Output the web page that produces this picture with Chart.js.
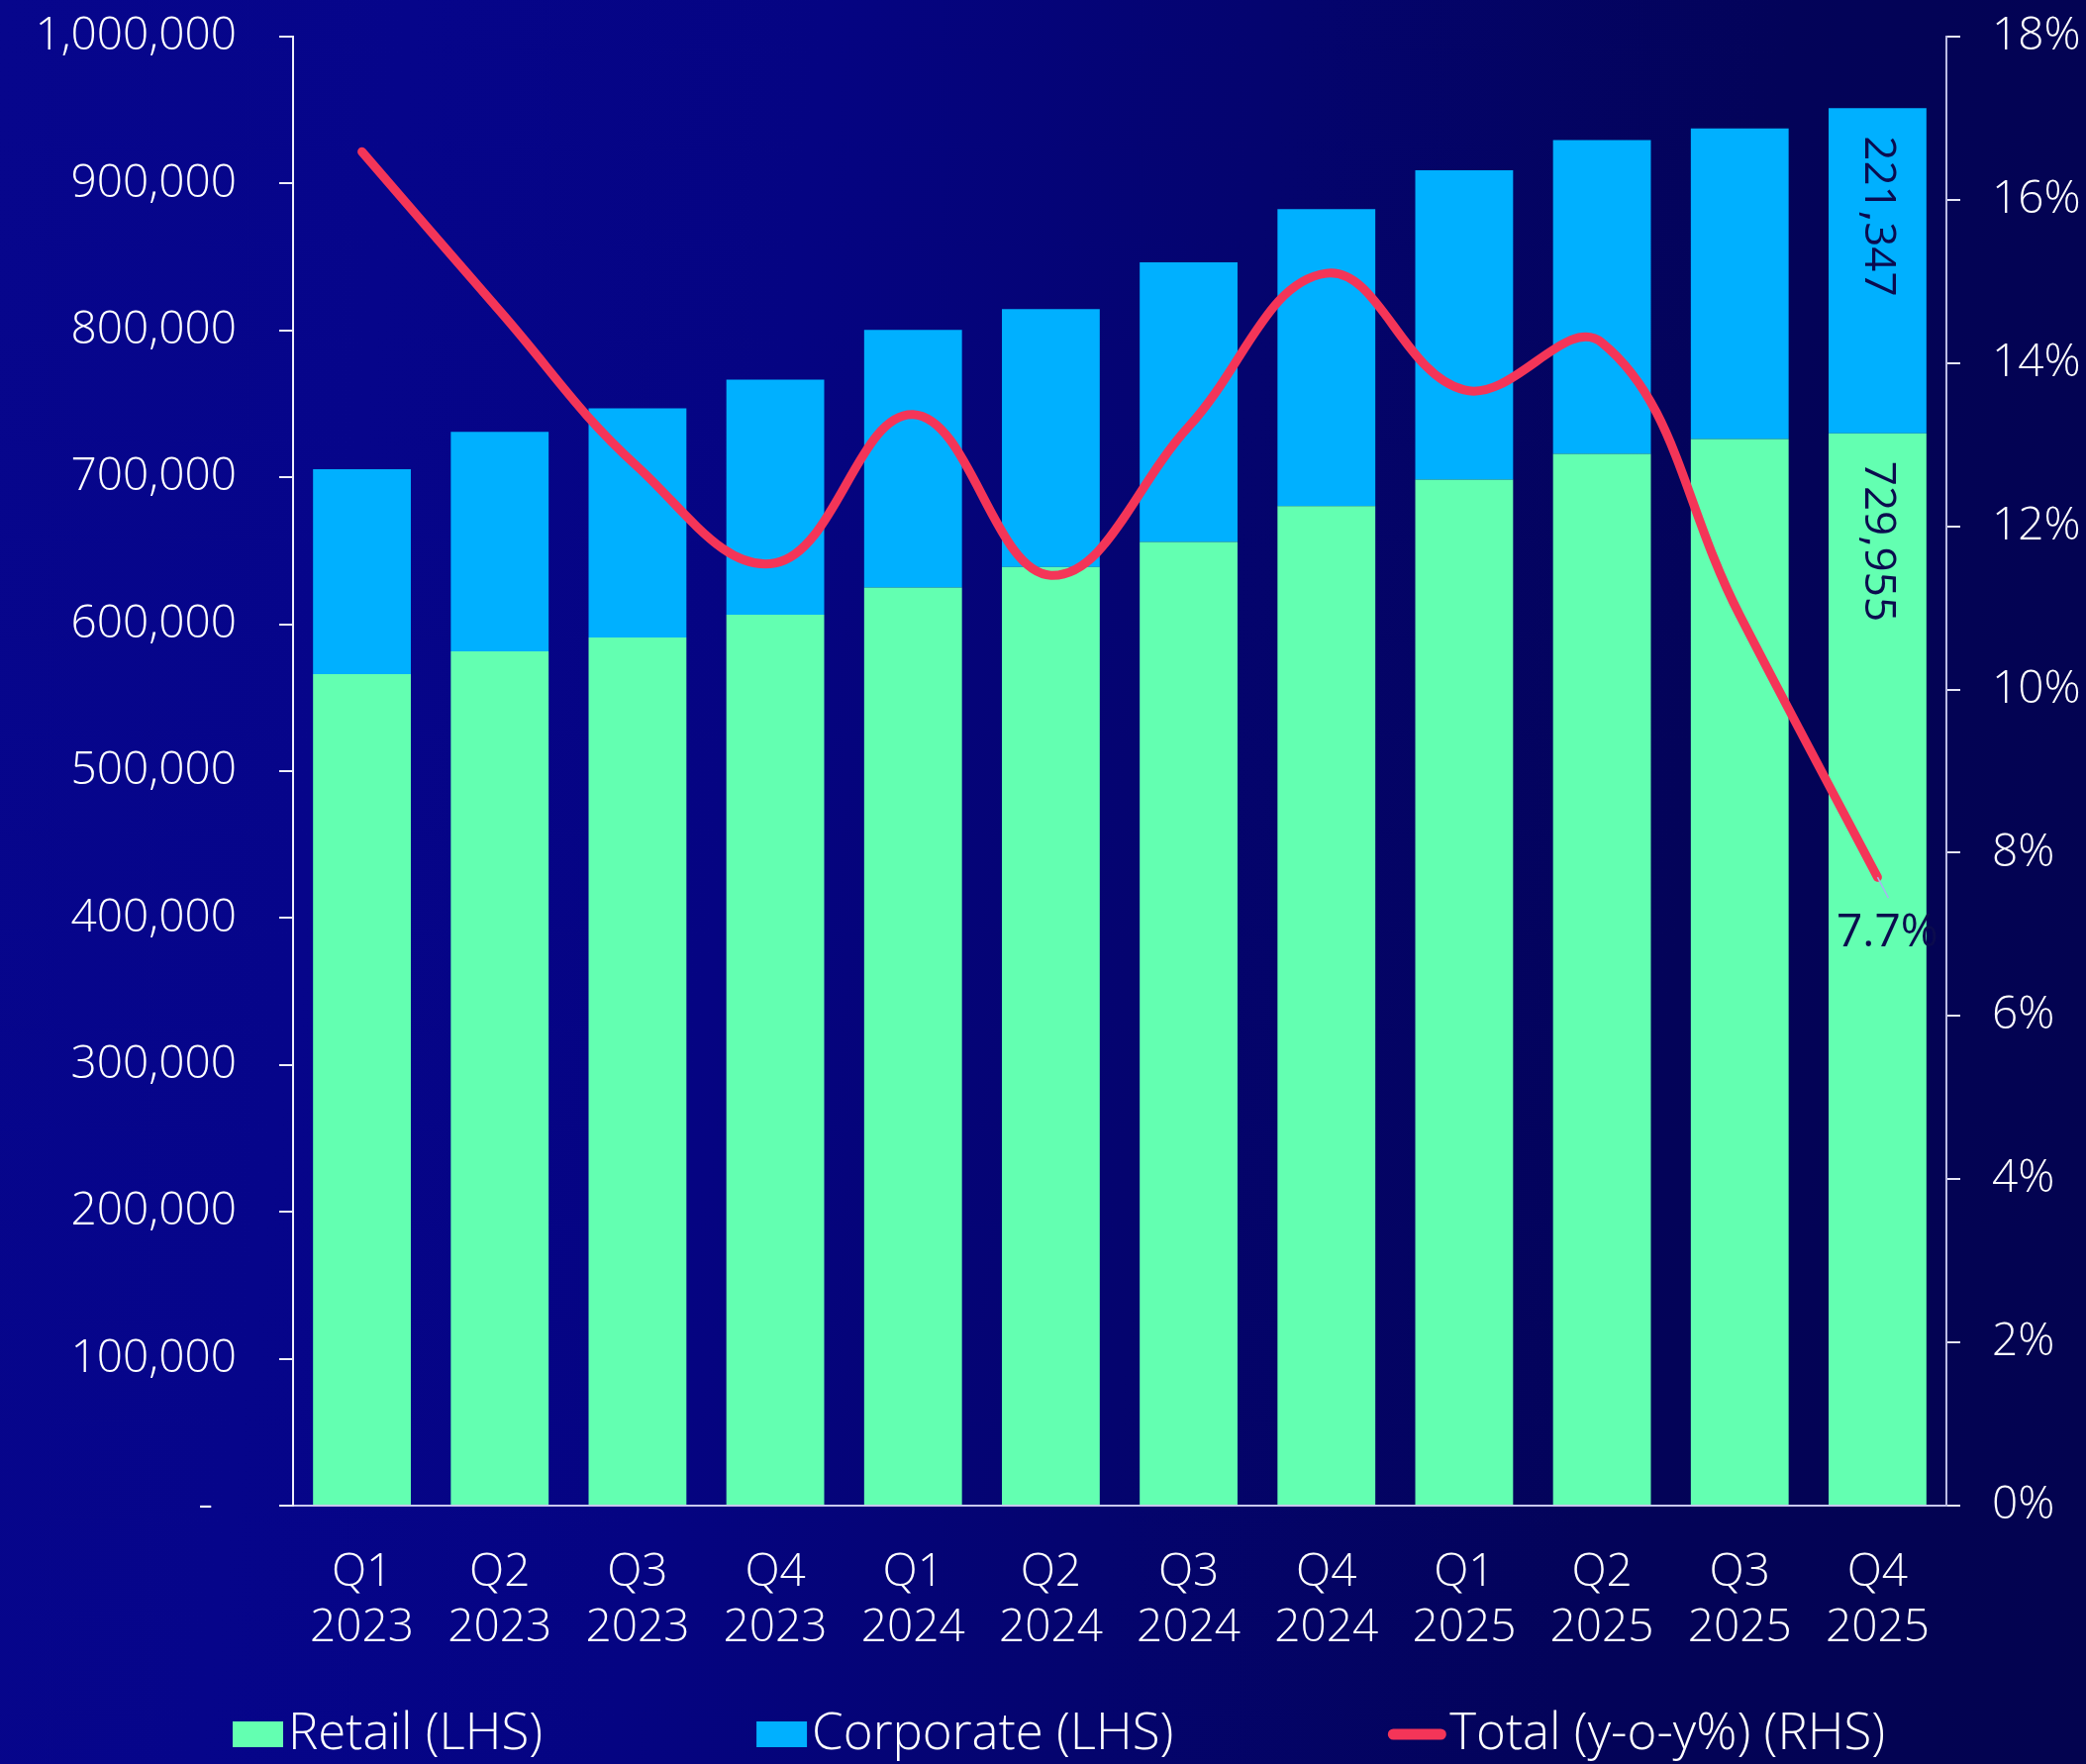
<!DOCTYPE html>
<html>
<head>
<meta charset="utf-8">
<script src="https://cdn.jsdelivr.net/npm/chart.js@4.4.1/dist/chart.umd.min.js"></script>
<style>
html,body{margin:0;padding:0;width:2107px;height:1782px;overflow:hidden;}
body{background:linear-gradient(97deg,#07068c 0%,#06058a 18%,#050482 36%,#04046e 56%,#030359 78%,#03034f 100%);}
#wrap{position:relative;width:2107px;height:1782px;}
canvas{display:block;}
</style>
</head>
<body>
<div id="wrap"><canvas id="c" width="2107" height="1782"></canvas></div>
<script>
// ---- data ----
const categories = [
  ['Q1','2023'],['Q2','2023'],['Q3','2023'],['Q4','2023'],
  ['Q1','2024'],['Q2','2024'],['Q3','2024'],['Q4','2024'],
  ['Q1','2025'],['Q2','2025'],['Q3','2025'],['Q4','2025']
];
const retail    = [566000, 581500, 591000, 606500, 625000, 639000, 656000, 680500, 698500, 716000, 726000, 729955];
const corporate = [139500, 149500, 156000, 160000, 175300, 175500, 190300, 202000, 210500, 213500, 211500, 221347];
const totalYoY  = [16.59, 14.64, 12.73, 11.55, 13.37, 11.40, 13.22, 15.10, 13.67, 14.25, 10.91, 7.70];
const leftTickLabels  = ['-  ','100,000','200,000','300,000','400,000','500,000','600,000','700,000','800,000','900,000','1,000,000'];
const rightTickLabels = ['0%','2%','4%','6%','8%','10%','12%','14%','16%','18%'];
const seriesLabels = ['Retail (LHS)','Corporate (LHS)','Total (y-o-y%) (RHS)'];

// ---- styles ----
const C_RETAIL = '#63ffb1';
const C_CORP   = '#00b0ff';
const C_LINE   = '#f43558';
const C_LABEL  = '#0b0b4e';
const FONT = "'Open Sans', 'Noto Sans', sans-serif";

Chart.defaults.font.family = FONT;
Chart.defaults.font.size = 46;
Chart.defaults.font.weight = 350;
Chart.defaults.color = '#ffffff';

const labelPlugin = {
  id: 'valueLabels',
  afterDatasetsDraw(chart) {
    const ctx = chart.ctx;
    ctx.save();
    ctx.fillStyle = C_LABEL;
    ctx.font = "400 44px " + FONT;
    [0, 1].forEach(di => {
      const meta = chart.getDatasetMeta(di);
      const last = meta.data.length - 1;
      const el = meta.data[last];
      const v = chart.data.datasets[di].data[last];
      ctx.save();
      ctx.translate(el.x, el.y + 28);
      ctx.rotate(Math.PI / 2);
      ctx.textAlign = 'left';
      ctx.textBaseline = 'middle';
      ctx.fillText(v.toLocaleString('en-US'), 0, 0);
      ctx.restore();
    });
    const lm = chart.getDatasetMeta(2);
    const li = lm.data.length - 1;
    const p = lm.data[li];
    const lv = chart.data.datasets[2].data[li];
    ctx.strokeStyle = '#a9b2f2';
    ctx.lineWidth = 1.5;
    ctx.beginPath();
    ctx.moveTo(p.x, p.y);
    ctx.lineTo(p.x + 11, p.y + 21);
    ctx.stroke();
    ctx.font = "400 46px " + FONT;
    ctx.textAlign = 'center';
    ctx.textBaseline = 'middle';
    ctx.fillText(lv.toFixed(1) + '%', p.x + 10, p.y + 57);
    ctx.restore();
  }
};

const legendPlugin = {
  id: 'bottomLegend',
  afterDraw(chart) {
    const ctx = chart.ctx;
    ctx.save();
    ctx.font = "350 51px " + FONT;
    ctx.textBaseline = 'middle';
    ctx.textAlign = 'left';
    const cy = 1752;
    let x = 235;
    chart.data.datasets.forEach((ds, i) => {
      let tx;
      if (ds.type === 'line') {
        ctx.strokeStyle = ds.borderColor;
        ctx.lineWidth = 11;
        ctx.lineCap = 'round';
        ctx.beginPath();
        ctx.moveTo(x + 6, cy);
        ctx.lineTo(x + 54, cy);
        ctx.stroke();
        tx = x + 63;
      } else {
        ctx.fillStyle = ds.backgroundColor;
        ctx.fillRect(x, cy - 13, 51, 26);
        tx = x + 56;
      }
      ctx.fillStyle = '#ffffff';
      ctx.fillText(ds.label, tx, cy);
      x = tx + ctx.measureText(ds.label).width + 216;
    });
    ctx.restore();
  }
};

const noScalePad = s => { s.paddingTop = 0; s.paddingBottom = 0; };

new Chart(document.getElementById('c'), {
  data: {
    labels: categories,
    datasets: [
      { type: 'bar', label: seriesLabels[0], data: retail, backgroundColor: C_RETAIL, borderWidth: 0,
        yAxisID: 'y', order: 1, categoryPercentage: 1.0, barPercentage: 0.71 },
      { type: 'bar', label: seriesLabels[1], data: corporate, backgroundColor: C_CORP, borderWidth: 0,
        yAxisID: 'y', order: 1, categoryPercentage: 1.0, barPercentage: 0.71 },
      { type: 'line', label: seriesLabels[2], data: totalYoY, borderColor: C_LINE, backgroundColor: C_LINE,
        borderWidth: 9, pointRadius: 0, tension: 0.4, borderCapStyle: 'round', borderJoinStyle: 'round',
        yAxisID: 'y1', order: 0, clip: false }
    ]
  },
  options: {
    responsive: false,
    animation: false,
    devicePixelRatio: 1,
    layout: { padding: { top: 37, left: 0, right: 0, bottom: 0 } },
    plugins: { legend: { display: false }, tooltip: { enabled: false } },
    scales: {
      x: {
        stacked: true,
        offset: true,
        grid: { display: false },
        border: { display: true, color: '#c8c8ee', width: 2 },
        ticks: { color: '#ffffff', padding: 32, maxRotation: 0, autoSkip: false,
                 font: { size: 46, lineHeight: 1.22 } },
        afterFit: s => { s.height = 261; }
      },
      y: {
        position: 'left',
        stacked: true,
        min: 0, max: 1000000,
        ticks: { stepSize: 100000, color: '#ffffff', padding: 43,
                 callback: (v, i) => leftTickLabels[i] },
        grid: { display: true, drawOnChartArea: false, drawTicks: true, tickLength: 14, color: '#eeeefa', lineWidth: 2 },
        border: { display: true, color: '#eeeefa', width: 2 },
        afterFit: s => { s.width = 296; noScalePad(s); }
      },
      y1: {
        position: 'right',
        min: 0, max: 18,
        ticks: { stepSize: 2, color: '#ffffff', padding: 32,
                 callback: (v, i) => rightTickLabels[i] },
        grid: { display: true, drawOnChartArea: false, drawTicks: true, tickLength: 14, color: '#e6e6f6', lineWidth: 2 },
        border: { display: true, color: '#bcbce4', width: 2 },
        afterFit: s => { s.width = 141; noScalePad(s); }
      }
    }
  },
  plugins: [labelPlugin, legendPlugin]
});
</script>
</body>
</html>
